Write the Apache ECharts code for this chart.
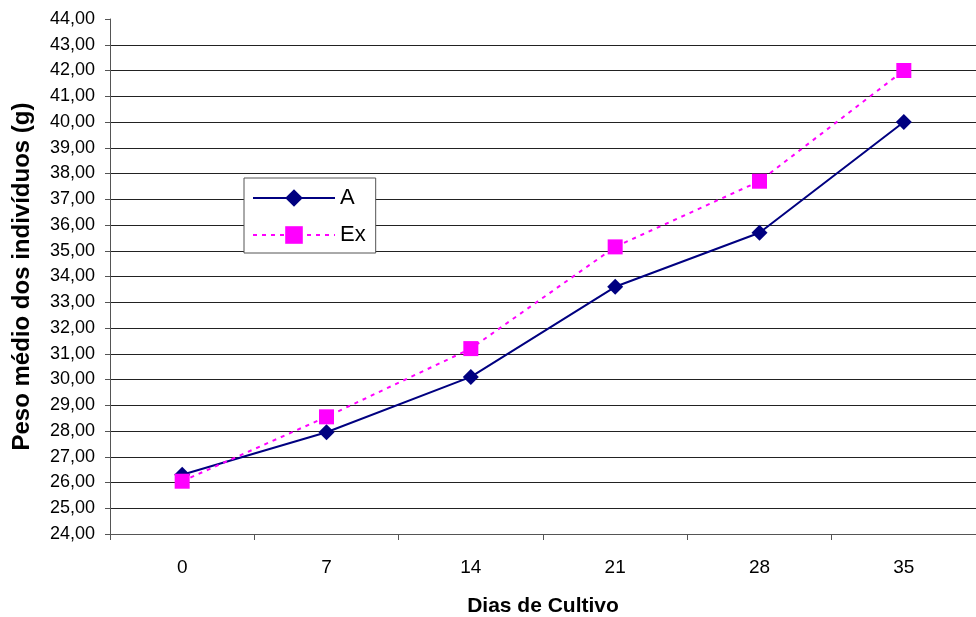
<!DOCTYPE html>
<html>
<head>
<meta charset="utf-8">
<script src="https://cdn.jsdelivr.net/npm/echarts@6/dist/echarts.min.js"></script>
<style>
  html, body { margin: 0; padding: 0; background: #fff; }
  #chart { width: 976px; height: 617px; }
</style>
</head>
<body>
<div id="chart"></div>
<script>
// Days of culture (x categories)
const dias = ['0', '7', '14', '21', '28', '35'];
// Mean individual weight (g) per treatment
const serieA = [26.3, 27.95, 30.1, 33.6, 35.7, 40.0];
const serieEx = [26.05, 28.55, 31.2, 35.15, 37.7, 42.0];
// Y axis range
const yMin = 24;
const yMax = 44;
const yStep = 1;

const FONT = '"Liberation Sans", Arial, sans-serif';

// split line colours: all dark except the top one (44,00 has only a tick)
const nLines = (yMax - yMin) / yStep + 1;
const splitColors = [];
for (let i = 0; i < nLines; i++) splitColors.push(i === nLines - 1 ? 'rgba(0,0,0,0)' : '#222');

const chart = echarts.init(document.getElementById('chart'), null, { renderer: 'canvas' });
chart.setOption({
  animation: false,
  backgroundColor: '#fff',
  textStyle: { fontFamily: FONT },
  grid: { left: 110, right: 0, top: 19, bottom: 83, containLabel: false, outerBoundsMode: 'none' },
  legend: {
    orient: 'vertical',
    left: 244,
    top: 178,
    padding: [9, 10, 7, 8],
    itemWidth: 82,
    itemHeight: 22,
    itemGap: 15,
    backgroundColor: '#fff',
    borderColor: '#555',
    borderWidth: 1,
    borderRadius: 0,
    textStyle: { fontFamily: FONT, fontSize: 22, color: '#000', padding: [0, 0, 0, 0] },
    data: ['A', 'Ex']
  },
  xAxis: {
    type: 'category',
    data: dias,
    boundaryGap: true,
    name: 'Dias de Cultivo',
    nameLocation: 'middle',
    nameGap: 62,
    nameTextStyle: { fontFamily: FONT, fontSize: 21, fontWeight: 'bold', color: '#000' },
    axisLine: { lineStyle: { color: '#555', width: 1 } },
    axisTick: { show: true, alignWithLabel: false, length: 6, lineStyle: { color: '#555' } },
    axisLabel: { fontFamily: FONT, fontSize: 19, color: '#000', margin: 24 },
    splitLine: { show: false }
  },
  yAxis: {
    type: 'value',
    min: yMin,
    max: yMax,
    interval: yStep,
    name: 'Peso médio dos indivíduos (g)',
    nameLocation: 'middle',
    nameGap: 76,
    nameTextStyle: { fontFamily: FONT, fontSize: 24, fontWeight: 'bold', color: '#000' },
    axisLine: { show: true, lineStyle: { color: '#555', width: 1 } },
    axisTick: { show: true, length: 5, lineStyle: { color: '#555' } },
    axisLabel: {
      fontFamily: FONT, fontSize: 18, color: '#000', margin: 15,
      formatter: v => v.toFixed(2).replace('.', ',')
    },
    splitLine: { show: true, lineStyle: { color: splitColors, width: 1 } }
  },
  series: [
    {
      name: 'A',
      type: 'line',
      data: serieA,
      symbol: 'diamond',
      symbolSize: 16,
      itemStyle: { color: '#000080' },
      lineStyle: { color: '#000080', width: 2, type: 'solid' }
    },
    {
      name: 'Ex',
      type: 'line',
      data: serieEx,
      symbol: 'rect',
      symbolSize: 15,
      itemStyle: { color: '#ff00ff' },
      lineStyle: { color: '#ff00ff', width: 2, type: [4, 5] }
    }
  ]
});
</script>
</body>
</html>
